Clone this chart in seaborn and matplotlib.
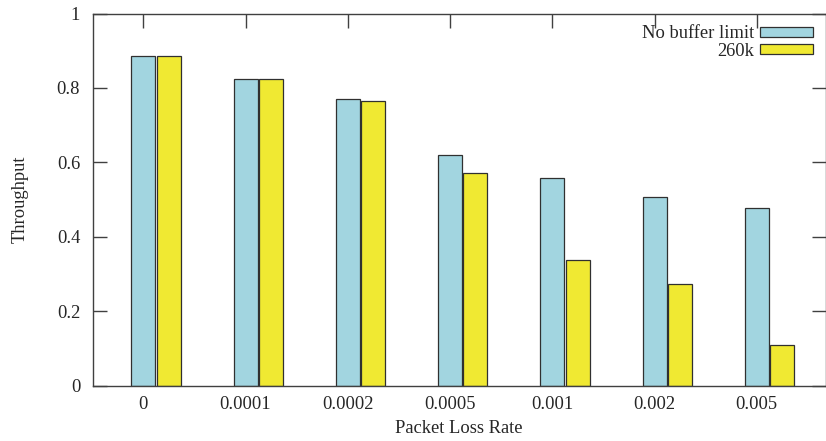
import matplotlib
matplotlib.use("Agg")
import matplotlib.pyplot as plt
import matplotlib.patches as mpatches
import seaborn as sns
import pandas as pd

loss_rates = ["0", "0.0001", "0.0002", "0.0005", "0.001", "0.002", "0.005"]
no_limit = [0.886, 0.823, 0.770, 0.619, 0.557, 0.508, 0.477]
buf_260k = [0.886, 0.825, 0.764, 0.571, 0.337, 0.272, 0.109]
series_names = ["No buffer limit", "260k"]
colors = ["#a2d5e0", "#f0e932"]

df = pd.DataFrame({
    "rate": loss_rates * 2,
    "throughput": no_limit + buf_260k,
    "series": [series_names[0]] * len(loss_rates) + [series_names[1]] * len(loss_rates),
})

sns.set_style("ticks")
plt.rcParams["font.family"] = ["Liberation Serif", "DejaVu Serif"]
fs = 13.3
plt.rcParams["font.size"] = fs

fig = plt.figure(figsize=(8.26, 4.41), dpi=100)
ax = fig.add_axes([92.7 / 826, (441 - 385.7) / 441, (825.5 - 92.7) / 826, (385.7 - 13.5) / 441])

sns.barplot(data=df, x="rate", y="throughput", hue="series", order=loss_rates,
            hue_order=series_names, palette=colors, width=0.494, gap=0.05,
            edgecolor="#303030", linewidth=0.9, saturation=1, legend=False, ax=ax)

half = 0.494 / 4
ax.set_xlim(-half - 0.495, 6 - half + 0.672)
ax.set_ylim(0, 1)
ax.set_xticks([i - half for i in range(len(loss_rates))])
ax.set_xticklabels(loss_rates)
ax.set_yticks([0, 0.2, 0.4, 0.6, 0.8, 1.0])
ax.set_yticklabels(["0", "0.2", "0.4", "0.6", "0.8", "1"])

spine_col = "#404040"
for s in ax.spines.values():
    s.set_visible(True)
    s.set_color(spine_col)
    s.set_linewidth(1.0)

ax.tick_params(axis="y", which="both", direction="in", length=10, width=1.0,
               color=spine_col, left=True, right=True, labelsize=fs, pad=9)
ax.tick_params(axis="x", which="both", direction="in", length=10, width=1.0,
               color=spine_col, top=True, bottom=False, labelsize=fs, pad=7.5)

ax.set_xlabel("Packet Loss Rate", fontsize=fs, labelpad=5)
ax.set_ylabel("Throughput", fontsize=fs, labelpad=20)

handles = [mpatches.Patch(facecolor=c, edgecolor="#303030", linewidth=0.9) for c in colors]
ax.legend(handles, series_names, loc="upper right", frameon=False, markerfirst=False,
          handlelength=2.85, handleheight=0.47, labelspacing=0.0, handletextpad=0.3,
          fontsize=fs, bbox_to_anchor=(812.5 / 826, (441 - 25.5) / 441),
          bbox_transform=fig.transFigure, borderaxespad=0, borderpad=0)

fig.savefig("out.png", dpi=100)
